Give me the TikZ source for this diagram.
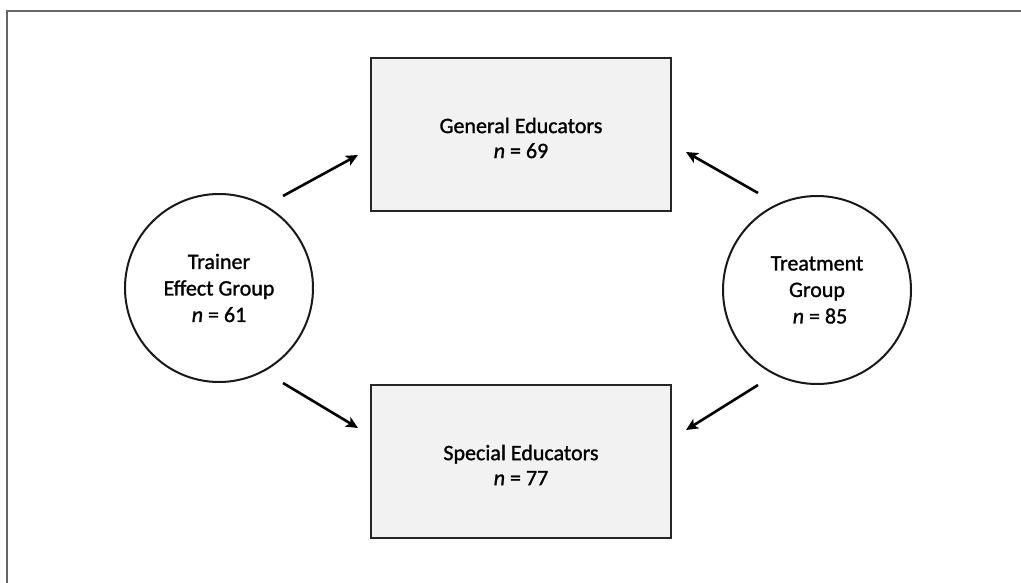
\documentclass[tikz,border=0pt]{standalone}
\usepackage{fontspec}
\setmainfont{Carlito}[FakeBold=1.2]
\usetikzlibrary{arrows.meta}
\tikzset{
  grpbox/.style={draw=black!85, line width=2pt, fill=black!5, minimum width=300pt, minimum height=153pt, inner sep=0pt},
  boxtext/.style={align=center, inner sep=0pt, font=\fontsize{22}{25}\selectfont},
  grpcirc/.style={draw=black!90, line width=2pt, fill=white, circle, minimum size=188pt, inner sep=0pt, align=center, font=\fontsize{22}{26.5}\selectfont},
  arr/.style={line width=2.6pt, -{Stealth[length=12pt,width=11pt,inset=3pt]}},
  frame/.style={draw=black!60, line width=2pt}
}
\begin{document}
\begin{tikzpicture}[x=1pt,y=-1pt]
\useasboundingbox (0,0) rectangle (1021,583);
\coordinate (fbl) at (7,583);
\coordinate (ftl) at (7,11);
\coordinate (ftr) at (1021,11);
\draw[frame] (fbl) -- (ftl) -- (ftr);

\node[grpbox] (ge) at (521,134.5) {};
\node[boxtext] (get) at ([yshift=-3.5pt]ge.center) {General Educators\\\textit{n} = 69};
\node[grpbox] (se) at (521,461.5) {};
\node[boxtext] (set) at ([yshift=-3.5pt]se.center) {Special Educators\\\textit{n} = 77};
\node[grpcirc] (tr) at (219,288) {Trainer\\Effect Group\\\textit{n} = 61};
\node[grpcirc] (tg) at (817,290) {Treatment\\Group\\\hspace{6pt}\textit{n} = 85};

\coordinate (a1s) at (283,196);
\coordinate (a1e) at (358,155);
\coordinate (a2s) at (283,383);
\coordinate (a2e) at (358,428);
\coordinate (a3s) at (758,193);
\coordinate (a3e) at (686,152);
\coordinate (a4s) at (758,385);
\coordinate (a4e) at (686,430);
\draw[arr] (a1s) -- (a1e);
\draw[arr] (a2s) -- (a2e);
\draw[arr] (a3s) -- (a3e);
\draw[arr] (a4s) -- (a4e);
\end{tikzpicture}
\end{document}
